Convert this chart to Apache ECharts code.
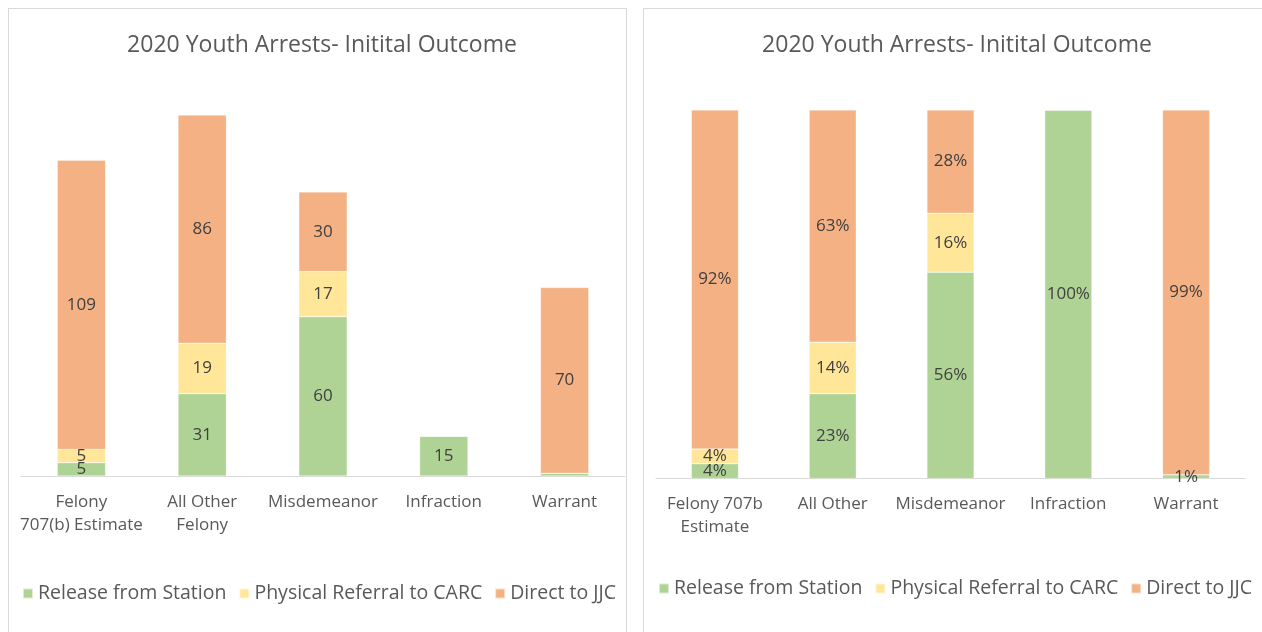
<!DOCTYPE html>
<html>
<head>
<meta charset="utf-8">
<script src="https://cdn.jsdelivr.net/npm/echarts@6/dist/echarts.min.js"></script>
<style>
  html, body { margin: 0; padding: 0; background: #fff; }
  #wrap { position: relative; width: 1262px; height: 632px; overflow: hidden; }
  #chart { position: absolute; left: 0; top: 0; width: 1262px; height: 632px; }
  .panel { position: absolute; border: 1px solid #d9d9d9; pointer-events: none; }
</style>
</head>
<body>
<div id="wrap">
  <div id="chart"></div>
  <div class="panel" style="left:8px; top:8px; width:617px; height:640px;"></div>
  <div class="panel" style="left:643px; top:8px; width:640px; height:640px;"></div>
</div>
<script>
// ---- Data ----
const chartTitle = '2020 Youth Arrests- Initital Outcome';
const seriesNames = ['Release from Station', 'Physical Referral to CARC', 'Direct to JJC'];

// Left chart: counts
const countCategories = ['Felony\n707(b) Estimate', 'All Other\nFelony', 'Misdemeanor', 'Infraction', 'Warrant'];
const countRelease  = [5, 31, 60, 15, 1];
const countReferral = [5, 19, 17, 0, 0];
const countDirect   = [109, 86, 30, 0, 70];
const countHiddenLabels = [[0, 4]]; // [seriesIndex, dataIndex] labels not shown

// Right chart: percentages
const pctCategories = ['Felony 707b\nEstimate', 'All Other', 'Misdemeanor', 'Infraction', 'Warrant'];
const pctRelease  = [4, 23, 56, 100, 1];
const pctReferral = [4, 14, 16, 0, 0];
const pctDirect   = [92, 63, 28, 0, 99];

// ---- Styles ----
const colors = ['#aed394', '#ffe699', '#f4b183'];
const fontFamily = '"Open Sans", "Noto Sans", sans-serif';
const textColor = '#595959';

function makeSeries(arrays, gridIdx, suffix, hidden) {
  return arrays.map((arr, si) => ({
    name: seriesNames[si],
    type: 'bar',
    stack: 'g' + gridIdx,
    xAxisIndex: gridIdx,
    yAxisIndex: gridIdx,
    barWidth: '40%',
    data: arr,
    itemStyle: { color: colors[si], borderColor: 'rgba(255,255,255,0.6)', borderWidth: 0.5 },
    label: {
      show: true,
      position: 'inside',
      color: '#404040',
      fontFamily: fontFamily,
      fontSize: 17,
      formatter: p => {
        if (!p.value) return '';
        if (hidden.some(h => h[0] === si && h[1] === p.dataIndex)) return '';
        return p.value + suffix;
      }
    },
    emphasis: { disabled: true }
  }));
}

function legendFor(left, top) {
  return {
    left: left, top: top, padding: 0,
    itemWidth: 10, itemHeight: 10, itemGap: 12,
    icon: 'rect',
    data: seriesNames,
    selectedMode: false,
    textStyle: { color: textColor, fontFamily: fontFamily, fontSize: 19.5 }
  };
}

const axisX = (cats, margin) => ({
  type: 'category',
  data: cats,
  axisLine: { lineStyle: { color: '#d9d9d9', width: 1 } },
  axisTick: { show: false },
  axisLabel: { color: textColor, fontFamily: fontFamily, fontSize: 17, lineHeight: 23, margin: margin, interval: 0 }
});

const chart = echarts.init(document.getElementById('chart'), null, { renderer: 'canvas' });
chart.setOption({
  animation: false,
  backgroundColor: 'transparent',
  title: [
    { text: chartTitle, left: 317, top: 28.5, textAlign: 'center',
      textStyle: { color: textColor, fontFamily: fontFamily, fontSize: 23, fontWeight: 'normal' } },
    { text: chartTitle, left: 952, top: 28.5, textAlign: 'center',
      textStyle: { color: textColor, fontFamily: fontFamily, fontSize: 23, fontWeight: 'normal' } }
  ],
  legend: [ legendFor(22, 583.5), legendFor(658, 578.5) ],
  grid: [
    { left: 21, right: 637, top: 104.4, bottom: 156 },
    { left: 656, right: 17, top: 110, bottom: 153.5 }
  ],
  xAxis: [ Object.assign(axisX(countCategories, 15), { gridIndex: 0 }),
           Object.assign(axisX(pctCategories, 14), { gridIndex: 1 }) ],
  yAxis: [
    { gridIndex: 0, type: 'value', min: 0, max: 140, show: false, splitLine: { show: false } },
    { gridIndex: 1, type: 'value', min: 0, max: 100, show: false, splitLine: { show: false } }
  ],
  series: [
    ...makeSeries([countRelease, countReferral, countDirect], 0, '', countHiddenLabels),
    ...makeSeries([pctRelease, pctReferral, pctDirect], 1, '%', [])
  ]
});
</script>
</body>
</html>
